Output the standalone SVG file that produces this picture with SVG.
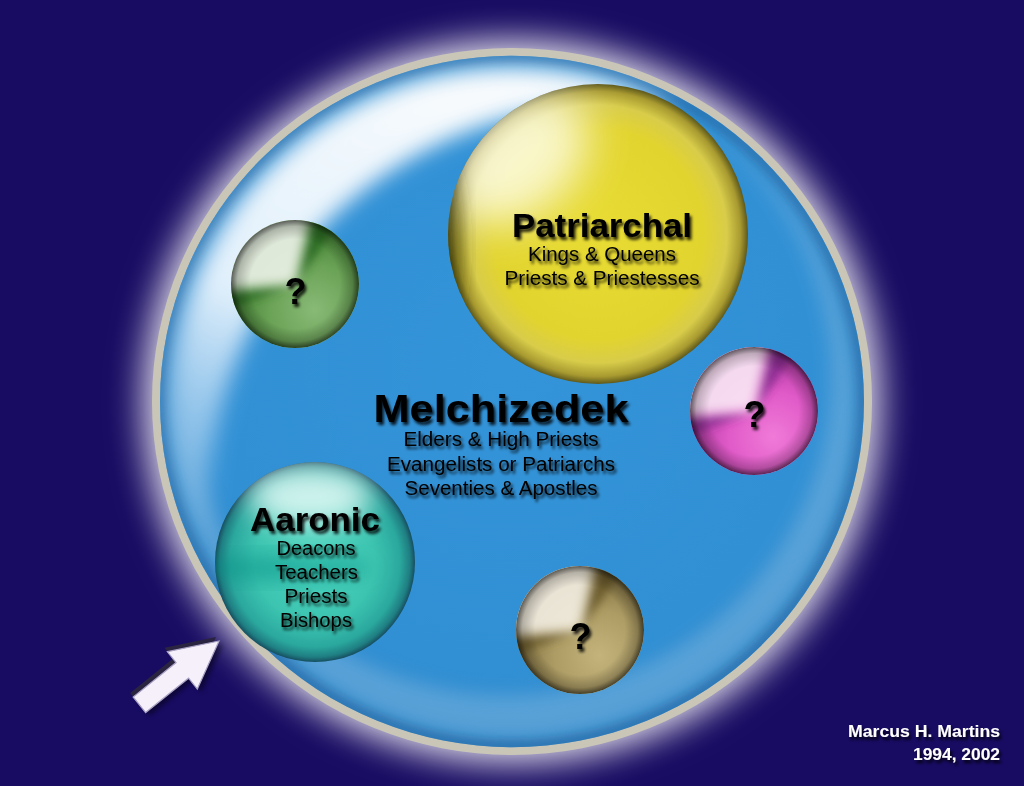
<svg xmlns="http://www.w3.org/2000/svg" xmlns:xlink="http://www.w3.org/1999/xlink" width="1024" height="786" viewBox="0 0 1024 786">
<style>
.t{font-family:"Liberation Sans",Arial,sans-serif;fill:#050505;text-anchor:middle}
.h{font-weight:bold;font-size:34px}
.s{font-size:20px}
.q{font-weight:bold;font-size:36px}
.sig{font-family:"Liberation Sans",Arial,sans-serif;font-weight:bold;font-size:16px;fill:#ffffff;text-anchor:end}
</style>
<defs>
<filter id="ts" x="-10%" y="-40%" width="130%" height="190%">
<feGaussianBlur in="SourceAlpha" stdDeviation="1.6"/>
<feOffset dx="2" dy="3" result="b"/>
<feFlood flood-color="#000" flood-opacity="0.85"/>
<feComposite in2="b" operator="in"/>
<feMerge><feMergeNode/><feMergeNode in="SourceGraphic"/></feMerge>
</filter>
<filter id="b4" x="-30%" y="-30%" width="160%" height="160%"><feGaussianBlur stdDeviation="4"/></filter>
<filter id="b5" x="-30%" y="-30%" width="160%" height="160%"><feGaussianBlur stdDeviation="5"/></filter>
<filter id="b6" x="-30%" y="-30%" width="160%" height="160%"><feGaussianBlur stdDeviation="6"/></filter>
<filter id="b9" x="-30%" y="-30%" width="160%" height="160%"><feGaussianBlur stdDeviation="9"/></filter>
<filter id="b11" x="-30%" y="-30%" width="160%" height="160%"><feGaussianBlur stdDeviation="11"/></filter>
<filter id="b14" x="-30%" y="-30%" width="160%" height="160%"><feGaussianBlur stdDeviation="14"/></filter>
<filter id="b18" x="-30%" y="-30%" width="160%" height="160%"><feGaussianBlur stdDeviation="18"/></filter>
<filter id="b22" x="-60%" y="-60%" width="220%" height="220%"><feGaussianBlur stdDeviation="22"/></filter>
<filter id="ash" x="-30%" y="-30%" width="160%" height="160%"><feGaussianBlur stdDeviation="2.5"/></filter>

<clipPath id="cin"><circle r="352"/></clipPath>
<clipPath id="cs"><circle r="64"/></clipPath>
<clipPath id="cy"><circle r="150"/></clipPath>
<clipPath id="ct"><circle r="100"/></clipPath>

<mask id="mW" maskUnits="userSpaceOnUse" x="-400" y="-400" width="800" height="800">
<circle r="341" fill="#fff"/><circle cx="102.5" cy="102.5" r="405" fill="#000"/>
</mask>
<mask id="mL" maskUnits="userSpaceOnUse" x="-400" y="-400" width="800" height="800">
<circle r="344" fill="#fff"/><circle cx="-5.1" cy="-25.1" r="324" fill="#000"/>
</mask>

<radialGradient id="gblue" cx="50%" cy="45%" r="55%">
<stop offset="0" stop-color="#3494d9"/><stop offset="0.8" stop-color="#3190d4"/><stop offset="1" stop-color="#2c84c6"/>
</radialGradient>
<linearGradient id="gband" gradientUnits="userSpaceOnUse" x1="-120" y1="-330" x2="-330" y2="150">
<stop offset="0" stop-color="#ffffff" stop-opacity="0.96"/><stop offset="0.5" stop-color="#f0f8ff" stop-opacity="0.92"/><stop offset="0.8" stop-color="#a8d0f0" stop-opacity="0.7"/><stop offset="1" stop-color="#a8d0f0" stop-opacity="0"/>
</linearGradient>
<radialGradient id="edge" cx="50%" cy="50%" r="50%">
<stop offset="0" stop-color="#000" stop-opacity="0"/><stop offset="0.7" stop-color="#000" stop-opacity="0"/><stop offset="0.9" stop-color="#000" stop-opacity="0.22"/><stop offset="1" stop-color="#000" stop-opacity="0.6"/>
</radialGradient>
<radialGradient id="gG" cx="65%" cy="70%" r="70%">
<stop offset="0" stop-color="#88ba76"/><stop offset="0.5" stop-color="#6aa256"/><stop offset="1" stop-color="#3f7e30"/>
</radialGradient>
<radialGradient id="gM" cx="65%" cy="70%" r="70%">
<stop offset="0" stop-color="#f07ad8"/><stop offset="0.5" stop-color="#e05ac8"/><stop offset="1" stop-color="#a8369c"/>
</radialGradient>
<radialGradient id="gT" cx="65%" cy="70%" r="70%">
<stop offset="0" stop-color="#c4b47c"/><stop offset="0.5" stop-color="#ad9c64"/><stop offset="1" stop-color="#7a6a3c"/>
</radialGradient>
<radialGradient id="gY" cx="50%" cy="50%" r="50%">
<stop offset="0" stop-color="#e8dc34"/><stop offset="0.7" stop-color="#e2d42e"/><stop offset="0.86" stop-color="#d8cc4a"/><stop offset="0.95" stop-color="#a89a30"/><stop offset="1" stop-color="#5e581a"/>
</radialGradient>
<radialGradient id="gA" cx="50%" cy="50%" r="50%">
<stop offset="0" stop-color="#4cd6c0"/><stop offset="0.6" stop-color="#3cc4b0"/><stop offset="0.85" stop-color="#2aa89e"/><stop offset="0.95" stop-color="#1f7e82"/><stop offset="1" stop-color="#164e60"/>
</radialGradient>

<path id="wW" d="M0,0 L-79.7,7 A80,80 0 0 1 18,-77.9 Z"/>
<path id="wL" d="M0,0 L-75.2,27.4 A80,80 0 0 1 -79.7,7 Z"/>
<path id="wR" d="M0,0 L18,-77.9 A80,80 0 0 1 45.9,-65.5 Z"/>
<polygon id="arw" points="0,0 -47,-24 -47,-10 -102,-10 -102,10 -47,10 -47,24"/>
</defs>

<rect width="1024" height="786" fill="#170b62"/>

<g id="melchizedek">
<g transform="translate(512 401.5) scale(1 0.982)">
<circle r="368" fill="#e4e0ec" filter="url(#b18)"/>
<circle r="360" fill="#c9c6b8"/>
<circle r="352" fill="url(#gblue)"/>
<g clip-path="url(#cin)">
<circle r="349" fill="none" stroke="#1a5590" stroke-opacity="0.45" stroke-width="12" filter="url(#b4)"/>
<g filter="url(#b9)"><circle r="344" fill="#7ab4e0" fill-opacity="0.55" mask="url(#mL)"/></g>
<g filter="url(#b11)"><circle r="341" fill="url(#gband)" mask="url(#mW)"/></g>
</g>
</g>
<g filter="url(#ts)">
<text class="t" x="501" y="422" font-size="39" font-weight="bold" textLength="255" lengthAdjust="spacingAndGlyphs">Melchizedek</text>
<text class="t s" x="501" y="446" textLength="195" lengthAdjust="spacingAndGlyphs">Elders &amp; High Priests</text>
<text class="t s" x="501" y="471" textLength="228" lengthAdjust="spacingAndGlyphs">Evangelists or Patriarchs</text>
<text class="t s" x="501" y="495" textLength="193" lengthAdjust="spacingAndGlyphs">Seventies &amp; Apostles</text>
</g>
</g>

<g id="patriarchal">
<g transform="translate(598 234)">
<circle r="150" fill="url(#gY)"/>
<g clip-path="url(#cy)">
<ellipse cx="-80" cy="-75" rx="80" ry="55" transform="rotate(-40 -80 -75)" fill="#fffff0" fill-opacity="0.8" filter="url(#b22)"/>
<ellipse cx="-158" cy="10" rx="22" ry="90" fill="#303008" fill-opacity="0.5" filter="url(#b9)"/>
</g>
</g>
<g filter="url(#ts)">
<text class="t h" x="602" y="237" textLength="180" lengthAdjust="spacingAndGlyphs">Patriarchal</text>
<text class="t s" x="602" y="261" textLength="148" lengthAdjust="spacingAndGlyphs">Kings &amp; Queens</text>
<text class="t s" x="602" y="285" textLength="195" lengthAdjust="spacingAndGlyphs">Priests &amp; Priestesses</text>
</g>
</g>

<g id="unknown-green">
<g transform="translate(295 284)">
<circle r="64" fill="url(#gG)"/>
<g clip-path="url(#cs)">
<use href="#wL" fill="#2c6a22" filter="url(#b5)"/>
<use href="#wR" fill="#2c6a22" filter="url(#b5)"/>
<use href="#wW" fill="#eef3ea" fill-opacity="0.9" filter="url(#b6)"/>
<circle r="64" fill="url(#edge)"/>
</g>
</g>
<text class="t q" x="295.5" y="304" filter="url(#ts)">?</text>
</g>

<g id="unknown-magenta">
<g transform="translate(754 411)">
<circle r="64" fill="url(#gM)"/>
<g clip-path="url(#cs)">
<use href="#wL" fill="#8a2a90" filter="url(#b5)"/>
<use href="#wR" fill="#8a2a90" filter="url(#b5)"/>
<use href="#wW" fill="#fbeaf6" fill-opacity="0.9" filter="url(#b6)"/>
<circle r="64" fill="url(#edge)"/>
</g>
</g>
<text class="t q" x="754.5" y="427" filter="url(#ts)">?</text>
</g>

<g id="unknown-tan">
<g transform="translate(580 630)">
<circle r="64" fill="url(#gT)"/>
<g clip-path="url(#cs)">
<use href="#wL" fill="#6a5a2a" filter="url(#b5)"/>
<use href="#wR" fill="#6a5a2a" filter="url(#b5)"/>
<use href="#wW" fill="#f4f0e4" fill-opacity="0.9" filter="url(#b6)"/>
<circle r="64" fill="url(#edge)"/>
</g>
</g>
<text class="t q" x="580.5" y="649" filter="url(#ts)">?</text>
</g>

<g id="aaronic">
<g transform="translate(315 562)">
<circle r="100" fill="url(#gA)"/>
<g clip-path="url(#ct)">
<ellipse cx="-5" cy="-66" rx="62" ry="30" fill="#e8fcf8" fill-opacity="0.85" filter="url(#b14)"/>
<ellipse cx="-30" cy="6" rx="85" ry="14" fill="#0e8c80" fill-opacity="0.45" filter="url(#b9)"/>
</g>
</g>
<g filter="url(#ts)">
<text class="t h" x="315" y="531" textLength="130" lengthAdjust="spacingAndGlyphs">Aaronic</text>
<text class="t s" x="316" y="555" textLength="79" lengthAdjust="spacingAndGlyphs">Deacons</text>
<text class="t s" x="316.5" y="579" textLength="83" lengthAdjust="spacingAndGlyphs">Teachers</text>
<text class="t s" x="316" y="603" textLength="63" lengthAdjust="spacingAndGlyphs">Priests</text>
<text class="t s" x="316" y="627" textLength="72" lengthAdjust="spacingAndGlyphs">Bishops</text>
</g>
</g>

<g id="connectors">
<g transform="translate(219 641) rotate(-38.7)">
<use href="#arw" fill="#000" fill-opacity="0.45" transform="translate(1 5)" filter="url(#ash)"/>
</g>
<g transform="translate(-3 -4)">
<g transform="translate(219 641) rotate(-38.7)">
<use href="#arw" fill="#2a2440"/>
</g>
</g>
<g transform="translate(219 641) rotate(-38.7)">
<use href="#arw" fill="#f6f0fa" stroke="#aaa2c4" stroke-width="1.2"/>
</g>
</g>

<g id="credit" filter="url(#ts)">
<text class="sig" x="1000" y="737" textLength="152" lengthAdjust="spacingAndGlyphs">Marcus H. Martins</text>
<text class="sig" x="1000" y="760" textLength="87" lengthAdjust="spacingAndGlyphs">1994, 2002</text>
</g>
</svg>
